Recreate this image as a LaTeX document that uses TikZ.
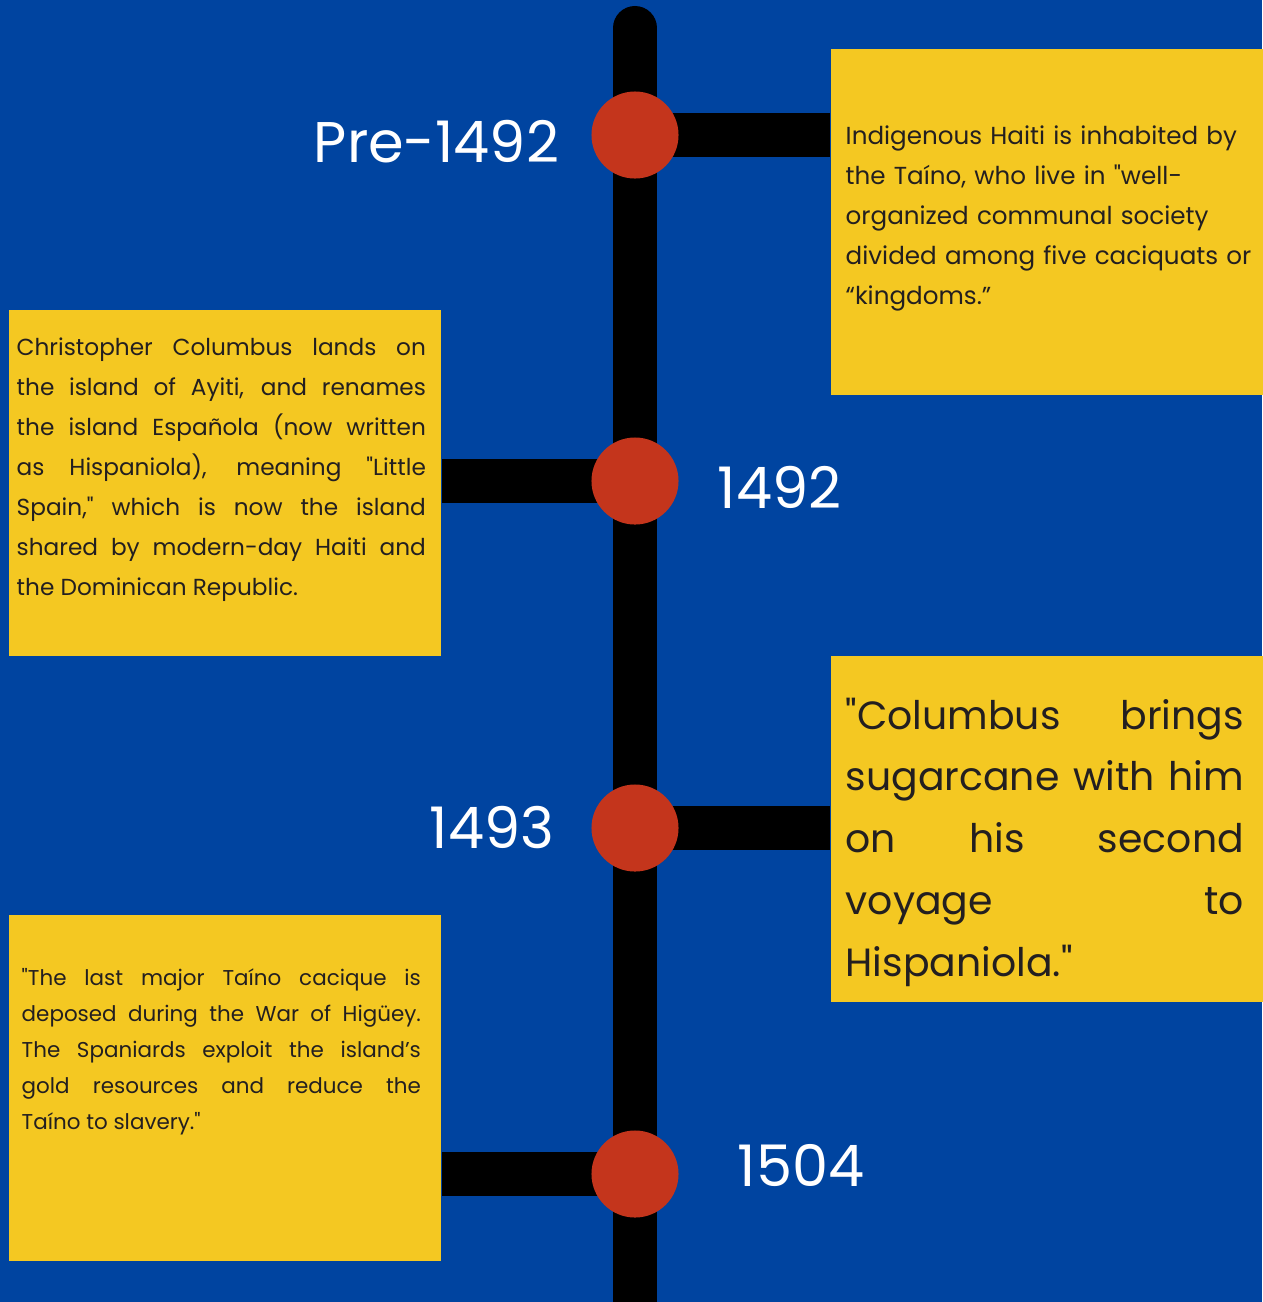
\documentclass[tikz,border=0pt]{standalone}
\usepackage{fontspec}
\setmainfont{Poppins}[Ligatures=TeXOff]
\usetikzlibrary{positioning}
\definecolor{haitiblue}{HTML}{0044A0}
\definecolor{dotred}{HTML}{C4351C}
\definecolor{boxyellow}{HTML}{F4C822}
\definecolor{ink}{HTML}{231F20}
\pgfdeclarelayer{back}
\pgfsetlayers{back,main}
\newcommand\loosebreaks{\tolerance=10000\relax\hyphenpenalty=10000\relax}

\begin{document}
\begin{tikzpicture}[x=0.01cm,y=-0.01cm,
    box/.style={rectangle,fill=boxyellow,inner sep=0pt,minimum width=4.32cm,minimum height=3.46cm,anchor=north west},
    dot/.style={circle,fill=dotred,inner sep=0pt,minimum size=0.87cm},
    year/.style={text=white,inner sep=0pt,font=\fontsize{16.3}{20}\selectfont},
    bar/.style={line width=0.44cm},
    blurb/.style={text=ink,inner sep=0pt,anchor=north west,align=justify}]
        \useasboundingbox (0,0) rectangle (1262,1302);
        \node[dot] (d1) at (635,135) {};
        \node[dot] (d2) at (635,481) {};
        \node[dot] (d3) at (635,828) {};
        \node[dot] (d4) at (635,1174) {};
        \node[box] (b1) at (830,48) {};
        \node[box] (b2) at (8,309) {};
        \node[box] (b3) at (830,655) {};
        \node[box] (b4) at (8,914) {};
        \begin{pgfonlayer}{back}
            \fill[haitiblue] (0,0) rectangle (1262,1302);
            \coordinate (top) at (635,28);
            \coordinate (bottom) at (635,1340);
            \draw[bar,line cap=round] (top) -- (bottom);
            \draw[bar] (d1.center) -- (d1.center -| b1.west);
            \draw[bar] (d2.center) -- (d2.center -| b2.east);
            \draw[bar] (d3.center) -- (d3.center -| b3.west);
            \draw[bar] (d4.center) -- (d4.center -| b4.east);
        \end{pgfonlayer}
        \node[year,left=0.31cm of d1,yshift=-0.07cm] (y1) {Pre-1492};
        \node[year,right=0.38cm of d2,yshift=-0.06cm] (y2) {1492};
        \node[year,left=0.36cm of d3] (y3) {1493};
        \node[year,right=0.58cm of d4,yshift=0.08cm] (y4) {1504};
        \node[blurb,align=left,text width=4.17cm,below right=0.77cm and 0.15cm of b1.north west,font=\fontsize{7}{11.4}\selectfont] (t1)
            {Indigenous Haiti is inhabited by\\the Taíno, who live in "well-\\organized communal society\\divided among five caciquats or\\“kingdoms.”};
        \node[blurb,text width=4.09cm,below right=0.28cm and 0.08cm of b2.north west,font=\loosebreaks\fontsize{6.6}{11.4}\selectfont] (t2)
            {Christopher Columbus lands on\linebreak the island of Ayiti, and renames\linebreak the island Española (now written\linebreak as Hispaniola), meaning "Little\linebreak Spain," which is now the island\linebreak shared by modern-day Haiti and\linebreak the Dominican Republic.};
        \node[blurb,text width=3.98cm,below right=0.42cm and 0.15cm of b3.north west,font=\loosebreaks\fontsize{11.2}{17.6}\selectfont] (t3)
            {"Columbus brings\linebreak sugarcane with him\linebreak on his second\linebreak voyage to\linebreak Hispaniola."};
        \node[blurb,text width=3.99cm,below right=0.54cm and 0.13cm of b4.north west,font=\loosebreaks\fontsize{6.1}{10.2}\selectfont] (t4)
            {"The last major Taíno cacique is\linebreak deposed during the War of Higüey.\linebreak The Spaniards exploit the island’s\linebreak gold resources and reduce the\linebreak Taíno to slavery."};
    \end{tikzpicture}
\end{document}
